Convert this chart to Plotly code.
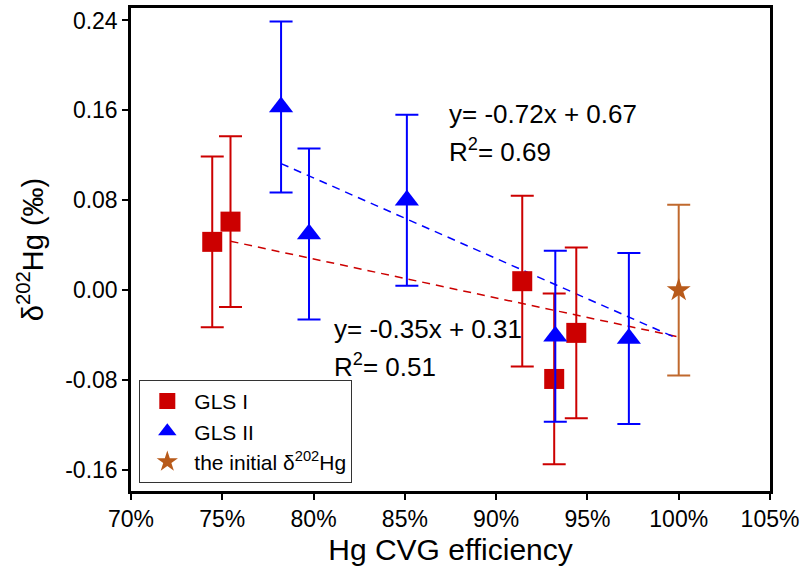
import plotly.graph_objects as go

# GLS I (red squares)
gls1_x = [0.7445, 0.7545, 0.9143, 0.9318, 0.9439]
gls1_y = [0.043, 0.061, 0.008, -0.079, -0.038]
gls1_err = [0.076, 0.076, 0.076, 0.076, 0.076]

# GLS II (blue triangles)
gls2_x = [0.7822, 0.7975, 0.8511, 0.9324, 0.9727]
gls2_y = [0.163, 0.050, 0.080, -0.041, -0.043]
gls2_err = [0.076, 0.076, 0.076, 0.076, 0.076]

# initial value (star)
init_x = [1.00]
init_y = [0.000]
init_err = [0.076]

# linear fits: slope, intercept, x span
fit1_slope, fit1_icpt = -0.347, 0.3054
fit1_span = [0.7545, 1.00]
fit2_slope, fit2_icpt = -0.717, 0.6735
fit2_span = [0.7822, 1.00]

x_ticks = [0.70, 0.75, 0.80, 0.85, 0.90, 0.95, 1.00, 1.05]
x_labels = ["70%", "75%", "80%", "85%", "90%", "95%", "100%", "105%"]
y_ticks = [-0.16, -0.08, 0.00, 0.08, 0.16, 0.24]
y_labels = ["-0.16", "-0.08", "0.00", "0.08", "0.16", "0.24"]

RED = "#cc0000"
BLUE = "#0000ff"
BROWN = "#b85a1a"
FONT = "Arial, Liberation Sans, sans-serif"

fig = go.Figure()

# dashed regression lines
fig.add_trace(go.Scatter(
    x=fit1_span, y=[fit1_slope * v + fit1_icpt for v in fit1_span],
    mode="lines", line=dict(color=RED, width=1.5, dash="8px,6px"),
    showlegend=False, hoverinfo="skip"))
fig.add_trace(go.Scatter(
    x=fit2_span, y=[fit2_slope * v + fit2_icpt for v in fit2_span],
    mode="lines", line=dict(color=BLUE, width=1.5, dash="8px,6px"),
    showlegend=False, hoverinfo="skip"))

fig.add_trace(go.Scatter(
    x=gls1_x, y=gls1_y, mode="markers", name="GLS I",
    marker=dict(symbol="square", size=20, color=RED),
    error_y=dict(type="data", array=gls1_err, color=RED, thickness=2, width=11.5)))
fig.add_trace(go.Scatter(
    x=gls2_x, y=gls2_y, mode="markers", name="GLS II",
    marker=dict(symbol="triangle-up", size=21, color=BLUE),
    error_y=dict(type="data", array=gls2_err, color=BLUE, thickness=2, width=11.5)))
fig.add_trace(go.Scatter(
    x=init_x, y=init_y, mode="markers", name="the initial δ<sup>202</sup>Hg",
    marker=dict(symbol="star", size=18, color=BROWN),
    error_y=dict(type="data", array=init_err, color="#c0692e", thickness=2, width=11.5)))

ann_font = dict(family=FONT, size=26, color="black")
for x, y, txt in [
    (0.8732, 0.1566, "y= -0.72x + 0.67"),
    (0.8732, 0.1240, "R<sup>2</sup>= 0.69"),
    (0.8100, -0.0347, "y= -0.35x + 0.31"),
    (0.8100, -0.0667, "R<sup>2</sup>= 0.51"),
]:
    fig.add_annotation(x=x, y=y, text=txt, showarrow=False,
                       xanchor="left", yanchor="middle", font=ann_font)

axis_common = dict(
    showline=True, linecolor="black", linewidth=2.5, mirror=True,
    ticks="outside", ticklen=6, tickwidth=1.5, tickcolor="black",
    showgrid=False, zeroline=False, automargin=False,
    ticklabeloverflow="allow",
    tickfont=dict(family=FONT, size=23, color="black"),
)

fig.update_xaxes(
    range=[0.70, 1.05], tickvals=x_ticks, ticktext=x_labels,
    title=dict(text="Hg CVG efficiency", font=dict(family=FONT, size=30, color="black"),
               standoff=8),
    **axis_common)
fig.update_yaxes(
    range=[-0.1787, 0.2511], tickvals=y_ticks, ticktext=y_labels,
    title=dict(text="δ<sup>202</sup>Hg (‰)", font=dict(family=FONT, size=29, color="black"),
               standoff=14),
    **axis_common)

fig.update_layout(
    width=809, height=577,
    margin=dict(l=131, r=39, t=8, b=86),
    paper_bgcolor="white", plot_bgcolor="white",
    font=dict(family=FONT, color="black"),
    legend=dict(
        x=0.013, y=0.23, xanchor="left", yanchor="top",
        bordercolor="#333333", borderwidth=1, bgcolor="white",
        font=dict(family=FONT, size=21, color="black"),
        itemwidth=44, tracegroupgap=0,
    ),
)

# drop the default 8px page margin so the figure sits at the window origin
fig.write_html("out.html", config={"displayModeBar": False},
               post_script="document.body.style.margin = '0px';")
